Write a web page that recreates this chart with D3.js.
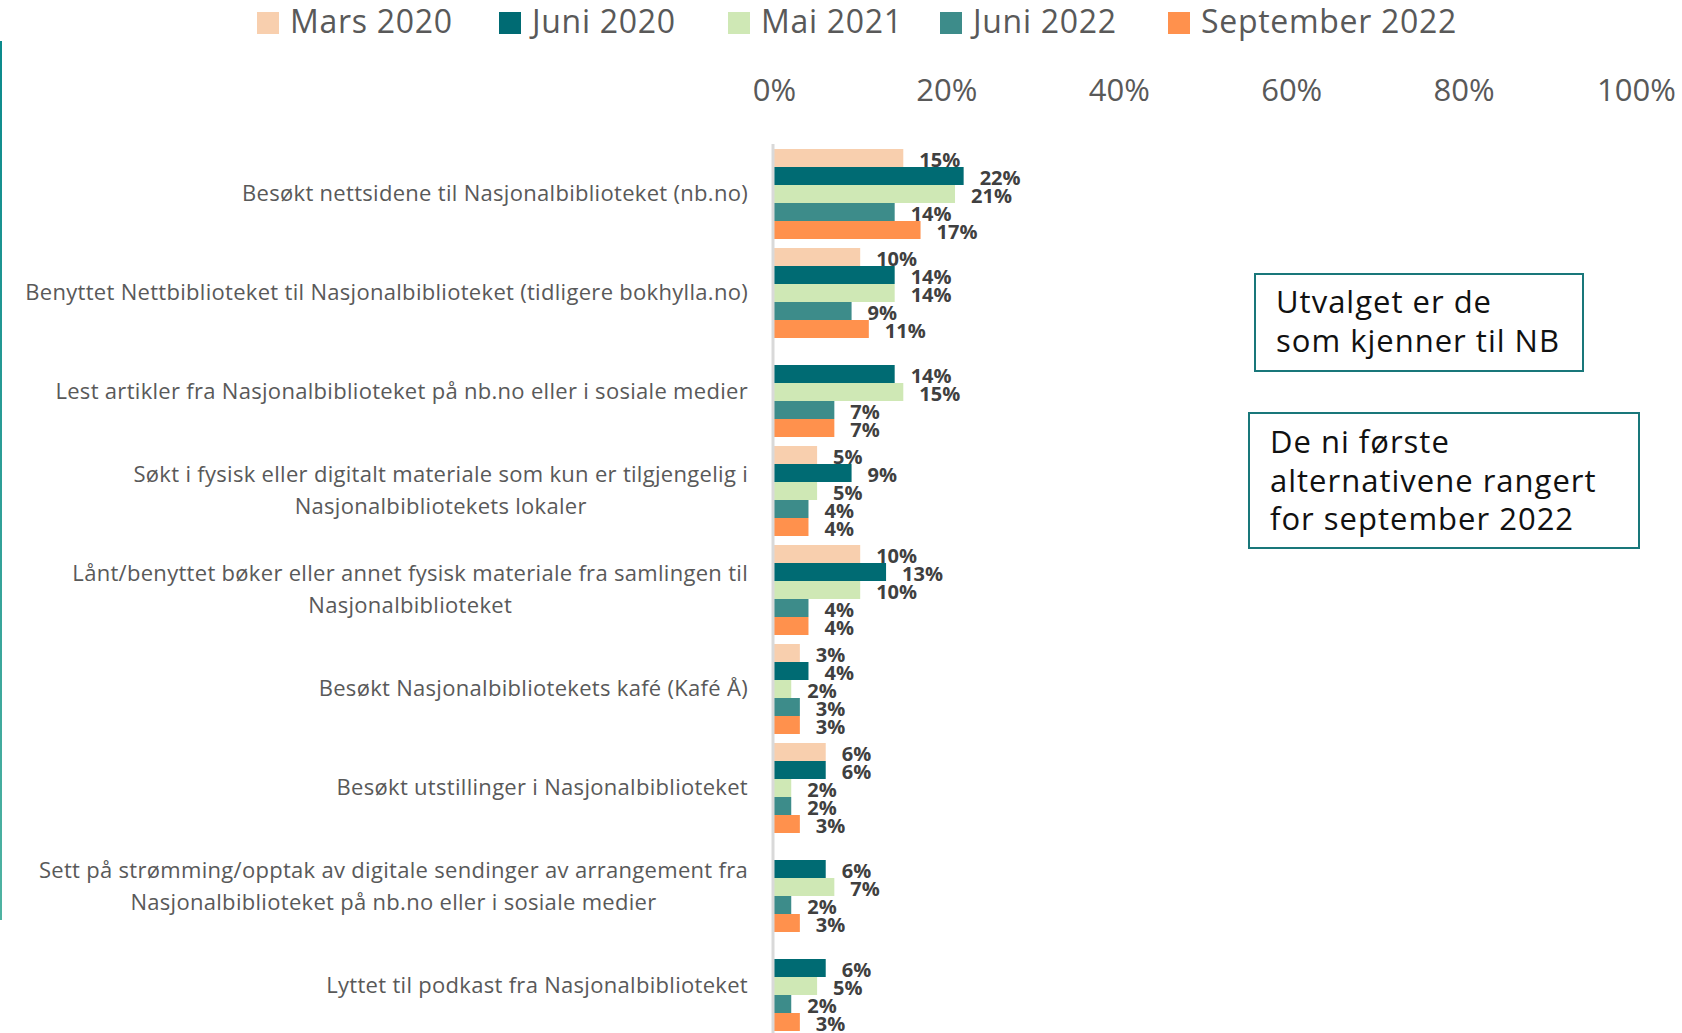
<!DOCTYPE html>
<html>
<head>
<meta charset="utf-8">
<script src="https://cdn.jsdelivr.net/npm/d3@7"></script>
<style>
  html, body { margin: 0; padding: 0; background: #fff; }
  svg { display: block; font-family: "Open Sans", sans-serif; }
</style>
</head>
<body>
<svg width="1682" height="1033"></svg>
<script>
var categories = [
    ["Besøkt nettsidene til Nasjonalbiblioteket (nb.no)"],
    ["Benyttet Nettbiblioteket til Nasjonalbiblioteket (tidligere bokhylla.no)"],
    ["Lest artikler fra Nasjonalbiblioteket på nb.no eller i sosiale medier"],
    ["Søkt i fysisk eller digitalt materiale som kun er tilgjengelig i", "Nasjonalbibliotekets lokaler"],
    ["Lånt/benyttet bøker eller annet fysisk materiale fra samlingen til", "Nasjonalbiblioteket"],
    ["Besøkt Nasjonalbibliotekets kafé (Kafé Å)"],
    ["Besøkt utstillinger i Nasjonalbiblioteket"],
    ["Sett på strømming/opptak av digitale sendinger av arrangement fra", "Nasjonalbiblioteket på nb.no eller i sosiale medier"],
    ["Lyttet til podkast fra Nasjonalbiblioteket"]
];
var seriesNames = ["Mars 2020", "Juni 2020", "Mai 2021", "Juni 2022", "September 2022"];
var seriesColors = ["#f8cfae", "#006b73", "#cfe8b5", "#3d8c8a", "#ff914d"];

// one value per category, null = not asked that round
var mars2020 = [0.15, 0.10, null, 0.05, 0.10, 0.03, 0.06, null, null];
var juni2020 = [0.22, 0.14, 0.14, 0.09, 0.13, 0.04, 0.06, 0.06, 0.06];
var mai2021  = [0.21, 0.14, 0.15, 0.05, 0.10, 0.02, 0.02, 0.07, 0.05];
var juni2022 = [0.14, 0.09, 0.07, 0.04, 0.04, 0.03, 0.02, 0.02, 0.02];
var sept2022 = [0.17, 0.11, 0.07, 0.04, 0.04, 0.03, 0.03, 0.03, 0.03];
var seriesValues = [mars2020, juni2020, mai2021, juni2022, sept2022];

var xTicks = [0, 0.2, 0.4, 0.6, 0.8, 1];
var notes = [
    ["Utvalget er de", "som kjenner til NB"],
    ["De ni første", "alternativene rangert", "for september 2022"]
];

var svg = d3.select("svg");
var textGrey = "#595959";

var x = d3.scaleLinear().domain([0, 1]).range([774, 1636]);
var catIdx = d3.range(categories.length);
var y = d3.scaleBand().domain(catIdx).range([149, 1031]).paddingInner(9 / 99).paddingOuter(0);
var y1 = d3.scaleBand().domain(d3.range(seriesNames.length)).range([0, y.bandwidth()]);

// thin teal strip on the left edge
var grad = svg.append("defs").append("linearGradient")
    .attr("id", "edge").attr("x1", 0).attr("x2", 0).attr("y1", 0).attr("y2", 1);
grad.append("stop").attr("offset", "0%").attr("stop-color", "#0b8a8c");
grad.append("stop").attr("offset", "100%").attr("stop-color", "#4fb3a2");
svg.append("rect").attr("x", 0).attr("y", 41).attr("width", 2).attr("height", 879).attr("fill", "url(#edge)");

// legend
var legendX = [257, 499, 728, 940, 1168];
var legend = svg.append("g").selectAll("g")
    .data(seriesNames)
    .enter().append("g")
    .attr("transform", function (d, i) { return "translate(" + legendX[i] + ",0)"; });
legend.append("rect")
    .attr("y", 12).attr("width", 22).attr("height", 22)
    .attr("fill", function (d, i) { return seriesColors[i]; });
legend.append("text")
    .attr("x", 33).attr("y", 33)
    .attr("font-size", 32).attr("letter-spacing", 0.7).attr("fill", textGrey)
    .text(function (d) { return d; });

// x axis on top
var xAxis = svg.append("g")
    .attr("transform", "translate(0,101)")
    .call(d3.axisTop(x).tickValues(xTicks).tickFormat(d3.format(".0%")).tickSize(0).tickPadding(0));
xAxis.select(".domain").remove();
xAxis.selectAll("text")
    .attr("font-family", "Open Sans, sans-serif")
    .attr("font-size", 31).attr("fill", textGrey).attr("dy", 0);

// bars
var groups = svg.append("g").selectAll("g")
    .data(catIdx)
    .enter().append("g")
    .attr("transform", function (c) { return "translate(0," + y(c) + ")"; });

function cells(c) {
    return seriesValues.map(function (vals, s) { return {s: s, v: vals[c]}; })
        .filter(function (d) { return d.v != null; });
}

groups.selectAll("rect")
    .data(cells)
    .enter().append("rect")
    .attr("x", x(0))
    .attr("y", function (d) { return y1(d.s); })
    .attr("width", function (d) { return x(d.v) - x(0); })
    .attr("height", y1.bandwidth())
    .attr("fill", function (d) { return seriesColors[d.s]; });

groups.selectAll("text.val")
    .data(cells)
    .enter().append("text")
    .attr("class", "val")
    .attr("x", function (d) { return x(d.v) + 16; })
    .attr("y", function (d) { return y1(d.s) + y1.bandwidth() - 0.5; })
    .attr("font-size", 20).attr("font-weight", 700).attr("fill", "#404040")
    .text(function (d) { return d3.format(".0%")(d.v); });

// vertical axis line
svg.append("line")
    .attr("x1", x(0) - 1).attr("x2", x(0) - 1)
    .attr("y1", 144).attr("y2", 1033)
    .attr("stroke", "#d9d9d9").attr("stroke-width", 3);

// category labels, multi-line ones centred as a block and right-aligned
var labelRight = 748, lineH = 32;
svg.append("g").selectAll("text")
    .data(catIdx)
    .enter().append("text")
    .attr("font-size", 22).attr("letter-spacing", 0.3).attr("fill", textGrey)
    .attr("text-anchor", "middle")
    .each(function (c) {
        var t = d3.select(this);
        var lines = categories[c];
        var cy = y(c) + y.bandwidth() / 2;
        lines.forEach(function (line, i) {
            t.append("tspan")
                .attr("y", cy + (i - (lines.length - 1) / 2) * lineH + 7)
                .text(line);
        });
        var w = d3.max(t.selectAll("tspan").nodes(), function (n) { return n.getComputedTextLength(); });
        t.selectAll("tspan").attr("x", labelRight - w / 2);
    });

// note boxes
var boxes = [
    {x: 1255, y: 274, w: 328, h: 97, tx: 1276, ty: 313},
    {x: 1249, y: 413, w: 390, h: 135, tx: 1270, ty: 453}
];
boxes.forEach(function (b, i) {
    svg.append("rect")
        .attr("x", b.x).attr("y", b.y).attr("width", b.w).attr("height", b.h)
        .attr("fill", "none").attr("stroke", "#19777a").attr("stroke-width", 2);
    svg.append("g").selectAll("text")
        .data(notes[i])
        .enter().append("text")
        .attr("x", b.tx)
        .attr("y", function (d, j) { return b.ty + j * 38.5; })
        .attr("font-size", 31).attr("letter-spacing", 1).attr("fill", "#111")
        .text(function (d) { return d; });
});
</script>
</body>
</html>
